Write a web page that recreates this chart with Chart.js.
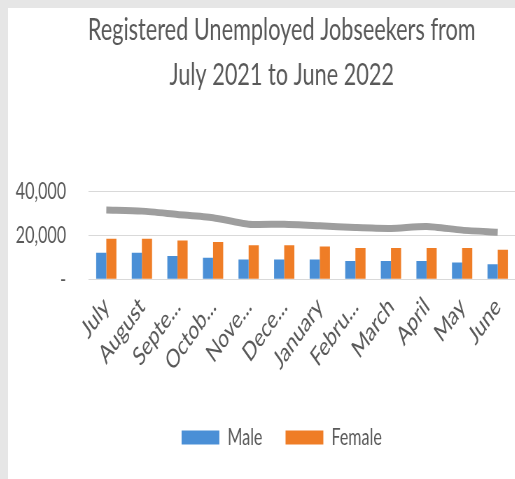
<!DOCTYPE html>
<html>
<head>
<meta charset="utf-8">
<script src="https://cdn.jsdelivr.net/npm/chart.js@4/dist/chart.umd.min.js"></script>
<style>
  html, body { margin: 0; padding: 0; overflow: hidden; }
  body { width: 515px; height: 479px; background: #e6e6e6; position: relative; }
  #card { position: absolute; left: 8px; top: 8px; width: 507px; height: 471px; background: #ffffff; overflow: hidden; }
  #c { display: block; transform: scaleX(0.7); transform-origin: 0 0; }
</style>
</head>
<body>
<div id="card"><canvas id="c" width="773" height="471" style="width:773px;height:471px"></canvas></div>
<script>
const categories = ["July", "August", "Septe...", "Octob...", "Nove...", "Dece...", "January", "Febru...", "March", "April", "May", "June"];
const maleValues = [12200, 12200, 10700, 9900, 9100, 9100, 9100, 8400, 8400, 8400, 7700, 6900];
const femaleValues = [18500, 18500, 17700, 17100, 15600, 15600, 15000, 14300, 14300, 14300, 14300, 13500];
const totalValues = [31700, 31200, 29700, 28200, 25200, 25200, 24500, 23700, 23300, 24200, 22500, 21500];
const yTicks = [0, 20000, 40000];
const titleLines = ["Registered Unemployed Jobseekers from", "July 2021 to June 2022"];

const FONT = "Lato, 'Open Sans', sans-serif";
const TEXT = "#595959";

new Chart(document.getElementById("c"), {
  data: {
    labels: categories,
    datasets: [
      { type: "line", label: "Total", data: totalValues, borderColor: "#9e9e9e", backgroundColor: "#9e9e9e",
        borderWidth: 7, pointRadius: 0, tension: 0.25, order: 0 },
      { type: "bar", label: "Male", data: maleValues, backgroundColor: "#4a8fd6", order: 1,
        categoryPercentage: 0.57, barPercentage: 1 },
      { type: "bar", label: "Female", data: femaleValues, backgroundColor: "#ef7d26", order: 1,
        categoryPercentage: 0.57, barPercentage: 1 }
    ]
  },
  options: {
    responsive: false,
    animation: false,
    devicePixelRatio: 1,
    layout: { padding: { left: 9, right: 0, top: 0, bottom: 20 } },
    plugins: {
      title: {
        display: true, text: titleLines, color: TEXT,
        font: { family: FONT, size: 31, weight: "normal", lineHeight: 1.45 },
        padding: { top: 0, bottom: 94 }
      },
      legend: {
        position: "bottom",
        labels: {
          color: TEXT, font: { family: FONT, size: 23 }, boxWidth: 54, boxHeight: 14, padding: 33,
          filter: (item) => item.text !== "Total"
        }
      },
      tooltip: { enabled: false }
    },
    scales: {
      x: {
        grid: { display: false },
        border: { display: true, color: "#d9d9d9" },
        ticks: { color: TEXT, font: { family: FONT, size: 26 }, minRotation: 45, maxRotation: 45, autoSkip: false, padding: 4 },
        afterFit: (s) => { s.paddingLeft = 0; s.paddingRight = 0; s.height += 12; }
      },
      y: {
        min: 0, max: 40000,
        afterBuildTicks: (s) => { s.ticks = yTicks.map(v => ({ value: v })); },
        grid: { color: "#d9d9d9", drawTicks: false },
        border: { display: false },
        ticks: {
          color: TEXT, font: { family: FONT, size: 23 }, padding: 32,
          callback: (v) => v === 0 ? "-" : v.toLocaleString("en-US")
        },
        afterFit: (s) => { s.width = 106; }
      },
      yR: {
        position: "right", display: true,
        grid: { display: false }, border: { display: false },
        ticks: { display: false },
        afterFit: (s) => { s.width = 48; }
      }
    }
  }
});
</script>
</body>
</html>
